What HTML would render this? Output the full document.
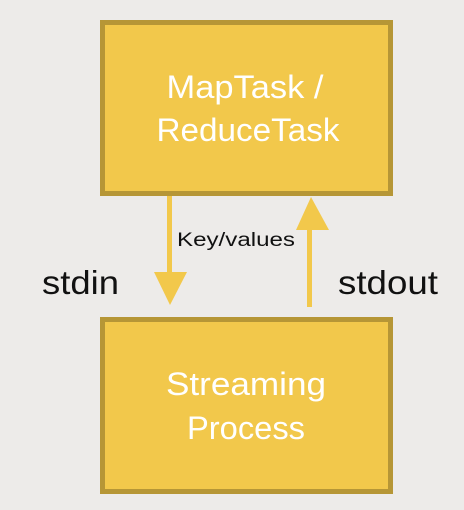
<!DOCTYPE html>
<html><head><meta charset="utf-8"><style>
html,body{margin:0;padding:0;background:#EDEBE9;}
svg{display:block;}
text{font-family:"Liberation Sans",sans-serif;}
</style></head><body>
<svg width="464" height="510" viewBox="0 0 464 510">
<rect width="464" height="510" fill="#EDEBE9"/>
<rect x="102.5" y="22.5" width="288" height="171" fill="#F2C84B" stroke="#B69636" stroke-width="5"/>
<rect x="102.5" y="319.5" width="288" height="172" fill="#F2C84B" stroke="#B69636" stroke-width="5"/>
<text x="245" y="98" fill="#fff" font-size="32" text-anchor="middle" textLength="157" lengthAdjust="spacingAndGlyphs">MapTask /</text>
<text x="248" y="141" fill="#fff" font-size="32" text-anchor="middle" textLength="183" lengthAdjust="spacingAndGlyphs">ReduceTask</text>
<text x="246" y="395" fill="#fff" font-size="32" text-anchor="middle" textLength="160" lengthAdjust="spacingAndGlyphs">Streaming</text>
<text x="246" y="439" fill="#fff" font-size="32" text-anchor="middle" textLength="118" lengthAdjust="spacingAndGlyphs">Process</text>
<rect x="167" y="196" width="5" height="78" fill="#F2C84B"/>
<polygon points="154,272 187,272 170,305" fill="#F2C84B"/>
<rect x="307" y="228" width="5" height="79" fill="#F2C84B"/>
<polygon points="296,230 329,230 311,197" fill="#F2C84B"/>
<text x="177" y="246" fill="#111" font-size="19" textLength="118" lengthAdjust="spacingAndGlyphs">Key/values</text>
<text x="42" y="294" fill="#111" font-size="33" textLength="77" lengthAdjust="spacingAndGlyphs">stdin</text>
<text x="338" y="294" fill="#111" font-size="33" textLength="100" lengthAdjust="spacingAndGlyphs">stdout</text>
</svg>
</body></html>
